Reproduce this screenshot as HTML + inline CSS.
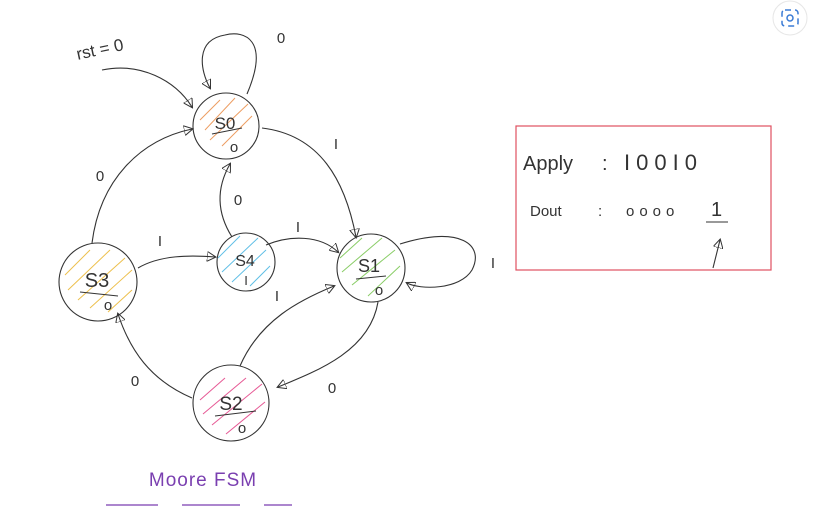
<!DOCTYPE html>
<html><head><style>
body{margin:0;background:#fff;}
svg{display:block;font-family:"Liberation Sans",sans-serif;}
</style></head><body>
<svg width="819" height="512" viewBox="0 0 819 512">
<defs><marker id="a" markerWidth="10" markerHeight="10" refX="8" refY="5" orient="auto" markerUnits="userSpaceOnUse"><path d="M0,0 L9,5 L0,10 Z" fill="none" stroke="#333" stroke-width="1"/></marker></defs>
<g fill="none" stroke="#333" stroke-width="1.1">
<!-- hatching -->
<g stroke-width="1" opacity="0.8">
<g stroke="#e8843a"><path d="M200,120 L220,100 M205,130 L235,98 M210,140 L248,104 M222,146 L252,116"/></g>
<g stroke="#e8b020"><path d="M65,275 L90,250 M68,290 L110,250 M78,300 L125,258 M90,308 L132,270 M108,312 L132,290"/></g>
<g stroke="#3ab0e0"><path d="M218,258 L240,236 M222,272 L258,238 M232,282 L266,250 M250,286 L270,266"/></g>
<g stroke="#6cc040"><path d="M340,258 L362,238 M342,272 L382,238 M352,285 L395,250 M368,296 L400,266"/></g>
<g stroke="#e0307a"><path d="M200,400 L225,378 M203,414 L246,378 M212,425 L262,384 M226,434 L265,402"/></g>
</g>
<circle cx="226" cy="126" r="33"/>
<circle cx="98" cy="282" r="39"/>
<circle cx="246" cy="262" r="29"/>
<circle cx="371" cy="268" r="34"/>
<circle cx="231" cy="403" r="38"/>
<!-- edges -->
<path d="M102,70 C140,62 175,80 192,107" marker-end="url(#a)"/>
<path d="M247,94 C270,40 245,30 225,35 C195,40 200,70 210,88" marker-end="url(#a)"/>
<path d="M262,128 C320,135 345,180 356,237" marker-end="url(#a)"/>
<path d="M400,244 C460,225 485,245 472,270 C460,290 420,290 407,283" marker-end="url(#a)"/>
<path d="M378,302 C370,350 320,370 278,387" marker-end="url(#a)"/>
<path d="M240,366 C260,320 300,300 334,286" marker-end="url(#a)"/>
<path d="M192,398 C150,380 130,350 118,314" marker-end="url(#a)"/>
<path d="M92,243 C100,180 140,140 192,129" marker-end="url(#a)"/>
<path d="M138,268 C160,255 190,255 215,257" marker-end="url(#a)"/>
<path d="M232,237 C215,210 218,185 230,164" marker-end="url(#a)"/>
<path d="M266,245 C290,235 320,235 338,252" marker-end="url(#a)"/>
<path d="M713,268 L720,240" marker-end="url(#a)"/>
</g>
<g fill="#333" font-size="18" text-anchor="middle">
<text x="225" y="129" font-size="17">S0</text><text x="234" y="152" font-size="15">o</text><path d="M212,134 L242,128" stroke="#333"/>
<text x="97" y="287" font-size="20">S3</text><text x="108" y="310" font-size="15">o</text><path d="M80,292 L118,296" stroke="#333"/>
<text x="245" y="266" font-size="16">S4</text><text x="246" y="285" font-size="13">I</text>
<text x="369" y="272" font-size="18">S1</text><text x="379" y="295" font-size="15">o</text><path d="M356,279 L386,276" stroke="#333"/>
<text x="231" y="410" font-size="19">S2</text><text x="242" y="433" font-size="15">o</text><path d="M215,416 L256,411" stroke="#333"/>
<text x="100" y="55" font-size="17" transform="rotate(-12 100 50)">rst = 0</text>
<text x="281" y="43" font-size="15">0</text>
<text x="336" y="149" font-size="15">I</text>
<text x="493" y="268" font-size="15">I</text>
<text x="100" y="181" font-size="15">0</text>
<text x="238" y="205" font-size="15">0</text>
<text x="160" y="246" font-size="15">I</text>
<text x="298" y="232" font-size="15">I</text>
<text x="277" y="301" font-size="15">I</text>
<text x="135" y="386" font-size="15">0</text>
<text x="332" y="393" font-size="15">0</text>
<text x="203" y="486" font-size="19" fill="#7a3fb0" letter-spacing="1">Moore FSM</text>
</g>
<path d="M106,505 L158,505 M182,505 L240,505 M264,505 L292,505" stroke="#7a3fb0" stroke-width="1.2"/>
<rect x="516" y="126" width="255" height="144" fill="none" stroke="#e05060" stroke-width="1.2"/>
<g fill="#333" font-family="Liberation Sans,sans-serif">
<text x="523" y="170" font-size="20">Apply</text>
<text x="602" y="170" font-size="20">:</text>
<text x="624" y="170" font-size="22" letter-spacing="6">I00I0</text>
<text x="530" y="216" font-size="15">Dout</text>
<text x="598" y="216" font-size="15">:</text>
<text x="626" y="216" font-size="15" letter-spacing="5">oooo</text>
<text x="711" y="216" font-size="20">1</text>
<path d="M706,222 L728,222" stroke="#333"/>
</g>
<circle cx="790" cy="18" r="17" fill="#fff" stroke="#e6e6e6"/>
<rect x="782" y="10" width="16" height="16" rx="3" fill="none" stroke="#3a7bd5" stroke-width="1.5" stroke-dasharray="6 4"/>
<circle cx="790" cy="18" r="3" fill="none" stroke="#3a7bd5" stroke-width="1.5"/>
</svg>
</body></html>
